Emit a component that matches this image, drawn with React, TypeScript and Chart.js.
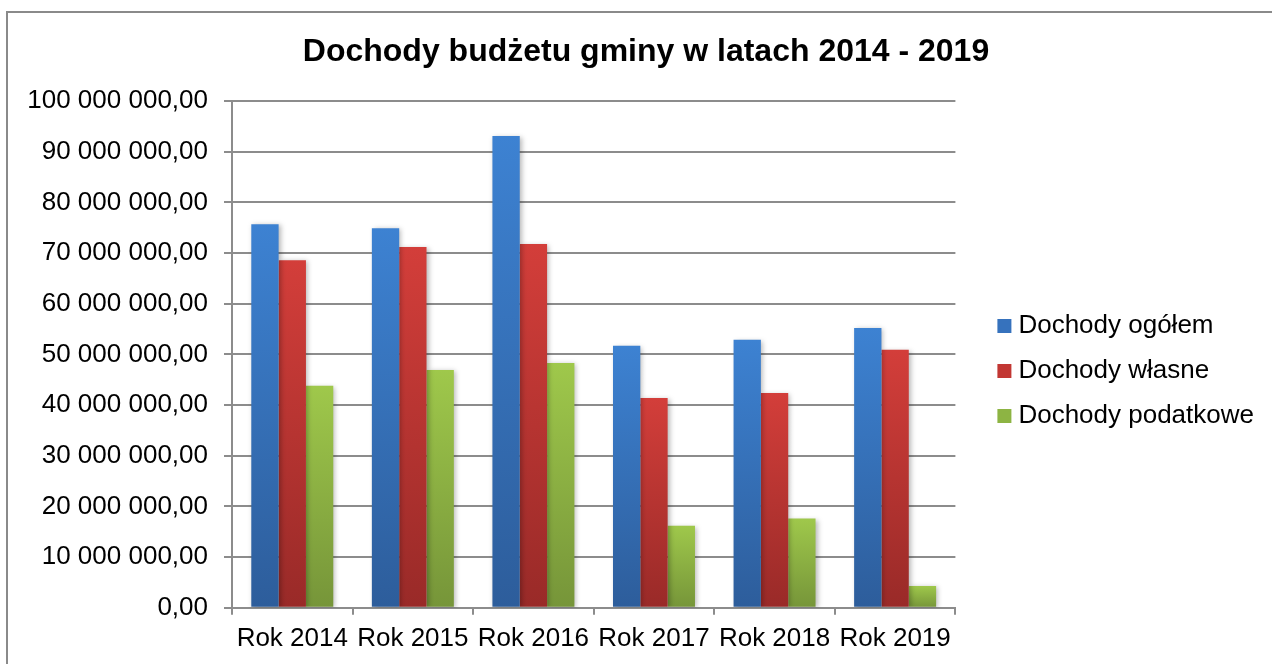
import React, { useEffect, useRef } from 'react';
import { Chart, registerables } from 'chart.js';

Chart.register(...registerables);

const categories = ['Rok 2014', 'Rok 2015', 'Rok 2016', 'Rok 2017', 'Rok 2018', 'Rok 2019'];
const seriesNames = ['Dochody ogółem', 'Dochody własne', 'Dochody podatkowe'];
const dochodyOgolem = [75700000, 74900000, 93100000, 51700000, 52900000, 55200000];
const dochodyWlasne = [68600000, 71200000, 71800000, 41400000, 42400000, 50900000];
const dochodyPodatkowe = [43800000, 46900000, 48300000, 16200000, 17600000, 4300000];
const titleText = 'Dochody budżetu gminy w latach 2014 - 2019';
const yMin = 0;
const yMax = 100000000;
const yStep = 10000000;

const FONT = "'Liberation Sans', Arial, sans-serif";
const GRID = '#8c8c8c';

const palettes = [
  { top: '#3d82d2', bottom: '#2d5d9b', solid: '#3672bd' },
  { top: '#d33e3a', bottom: '#992a28', solid: '#c23733' },
  { top: '#9fc84b', bottom: '#769539', solid: '#8db443' },
];

function formatPl(v: number): string {
  const s = Math.round(v).toString().replace(/\B(?=(\d{3})+(?!\d))/g, ' ');
  return s + ',00';
}

function gradientFor(p: { top: string; bottom: string; solid: string }) {
  return (ctx: any) => {
    const chart = ctx.chart;
    const ys = chart.scales && chart.scales.y;
    if (!ys || ctx.type !== 'data' || typeof ctx.raw !== 'number') return p.solid;
    const y0 = ys.getPixelForValue(ctx.raw);
    const y1 = ys.getPixelForValue(0);
    if (!isFinite(y0) || !isFinite(y1) || y0 === y1) return p.solid;
    const g = chart.ctx.createLinearGradient(0, y0, 0, y1);
    g.addColorStop(0, p.top);
    g.addColorStop(1, p.bottom);
    return g;
  };
}

const framePlugin = {
  id: 'frame',
  beforeDraw(chart: any) {
    const c = chart.ctx;
    c.save();
    c.fillStyle = '#ffffff';
    c.fillRect(0, 0, chart.width, chart.height);
    c.strokeStyle = '#8a8a8a';
    c.lineWidth = 2;
    c.strokeRect(7, 12, chart.width + 100, chart.height + 100);
    c.restore();
  },
};

const shadowPlugin = {
  id: 'barShadow',
  beforeDatasetsDraw(chart: any) {
    const c = chart.ctx;
    c.save();
    c.shadowColor = 'rgba(0,0,0,0.28)';
    c.shadowBlur = 5;
    c.shadowOffsetX = 2;
    c.shadowOffsetY = 1;
  },
  afterDatasetsDraw(chart: any) {
    chart.ctx.restore();
  },
};

const PAD_LEFT = 28;

export default function App() {
  const ref = useRef<HTMLCanvasElement | null>(null);

  useEffect(() => {
    if (!ref.current) return;
    const values = [dochodyOgolem, dochodyWlasne, dochodyPodatkowe];
    const chart = new Chart(ref.current, {
      type: 'bar',
      data: {
        labels: categories,
        datasets: seriesNames.map((name, i) => ({
          label: name,
          data: values[i],
          backgroundColor: gradientFor(palettes[i]),
          borderWidth: 0,
          categoryPercentage: 0.68,
          barPercentage: 1.0,
          yAxisID: 'y',
        })),
      },
      options: {
        responsive: false,
        animation: false,
        events: [],
        layout: { padding: { top: 0, left: PAD_LEFT, right: 8, bottom: 2 } },
        plugins: {
          tooltip: { enabled: false },
          title: {
            display: true,
            text: titleText,
            color: '#000',
            font: { family: FONT, size: 32, weight: 'bold' },
            padding: { top: 33, bottom: 29.6 },
          },
          legend: {
            display: true,
            position: 'right',
            fullSize: false,
            align: 'center',
            maxWidth: 320,
            title: {
              display: true,
              text: ' ',
              font: { family: FONT, size: 20 },
              padding: { top: 9, bottom: 0 },
            },
            labels: {
              color: '#000',
              font: { family: FONT, size: 26 },
              usePointStyle: true,
              pointStyle: 'rect',
              boxWidth: 2,
              boxHeight: 14,
              padding: 19,
              generateLabels: (ch: any) =>
                ch.data.datasets.map((ds: any, i: number) => ({
                  text: ds.label,
                  fillStyle: palettes[i].solid,
                  strokeStyle: palettes[i].solid,
                  fontColor: '#000',
                  lineWidth: 0,
                  pointStyle: 'rect',
                  hidden: false,
                  datasetIndex: i,
                })),
            },
          },
        },
        scales: {
          x: {
            grid: {
              display: true,
              drawOnChartArea: false,
              drawTicks: true,
              tickLength: 7,
              color: GRID,
              lineWidth: 2,
              offset: true,
            },
            border: { display: true, color: GRID, width: 2 },
            ticks: {
              color: '#000',
              padding: 8,
              font: { family: FONT, size: 26 },
              maxRotation: 0,
              autoSkip: false,
            },
          },
          y: {
            min: yMin,
            max: yMax,
            position: 'left',
            afterFit: (s: any) => {
              s.width = 232 - PAD_LEFT;
            },
            grid: {
              color: GRID,
              lineWidth: 2,
              drawTicks: true,
              tickLength: 8,
            },
            border: { display: true, color: GRID, width: 2 },
            ticks: {
              stepSize: yStep,
              color: '#000',
              padding: 16,
              font: { family: FONT, size: 26 },
              callback: (v: any) => formatPl(Number(v)),
            },
          },
          pad: {
            type: 'linear',
            position: 'right',
            display: true,
            grid: { display: false },
            ticks: { display: false },
            border: { display: false },
            afterFit: (s: any) => {
              s.width = 29;
            },
          },
        },
      },
      plugins: [framePlugin, shadowPlugin],
    } as any);
    return () => chart.destroy();
  }, []);

  return (
    <div style={{ position: 'absolute', left: 0, top: 0, width: 1272, height: 664, background: '#fff' }}>
      <canvas ref={ref} width={1272} height={664} style={{ display: 'block' }} />
    </div>
  );
}
